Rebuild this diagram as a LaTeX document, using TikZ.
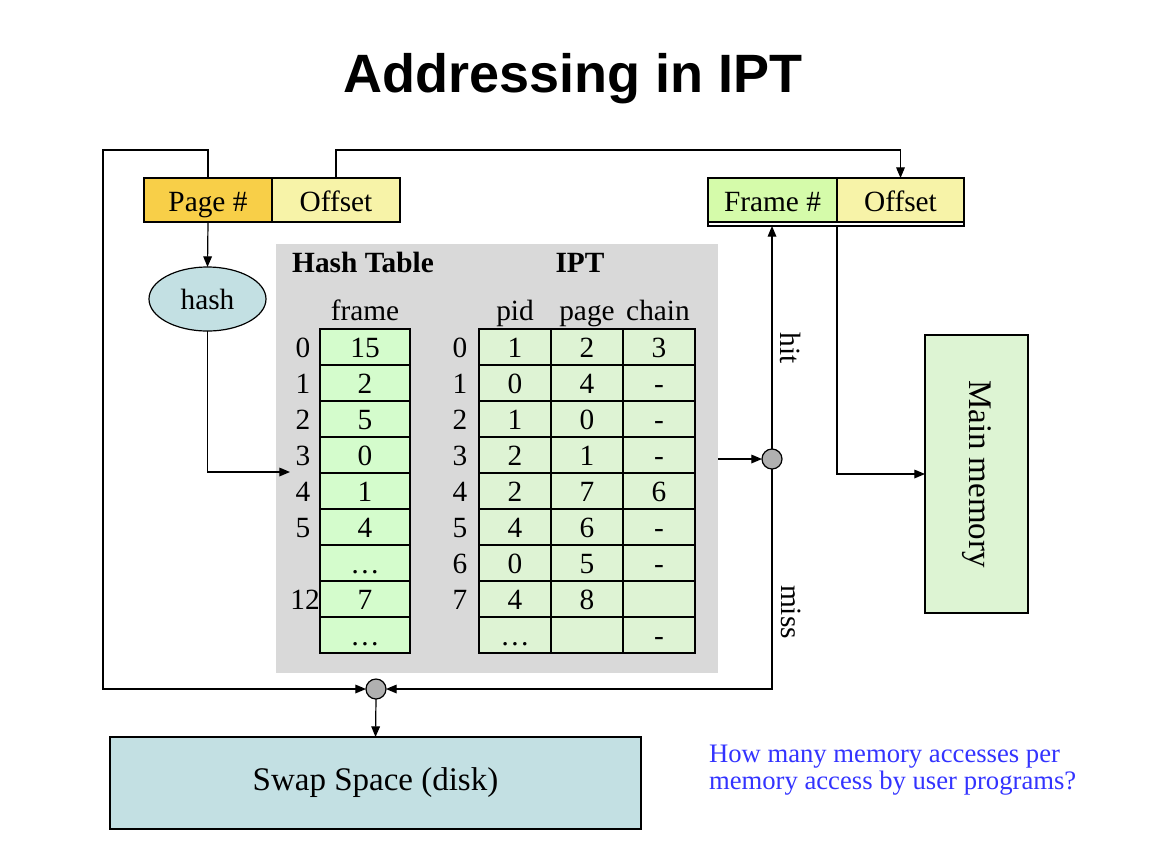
\documentclass[tikz,border=0pt]{standalone}
\usepackage{fontspec}
\setmainfont{Liberation Serif}
\newfontfamily\titlefont{Liberation Sans}
\usetikzlibrary{arrows.meta,shapes.geometric}
\definecolor{pagecol}{RGB}{248,207,72}
\definecolor{offcol}{RGB}{247,243,168}
\definecolor{framecol}{RGB}{213,251,170}
\definecolor{hashcol}{RGB}{212,252,204}
\definecolor{iptcol}{RGB}{222,243,212}
\definecolor{graybg}{RGB}{217,217,217}
\definecolor{tealcol}{RGB}{195,224,227}
\definecolor{memcol}{RGB}{221,244,211}
\definecolor{qblue}{RGB}{51,51,255}
\definecolor{dotgray}{RGB}{176,176,176}
\begin{document}
\begin{tikzpicture}[x=0.75pt,y=-0.75pt,
  every node/.style={inner sep=0pt, outer sep=0pt},
  txt/.style={font=\fontsize{22}{24}\selectfont},
  bigtxt/.style={font=\fontsize{24.75}{27}\selectfont},
  fixh/.style={text height=15pt, text depth=0pt},
  hcell/.style={txt, fixh, draw, line width=0.9pt, fill=hashcol, minimum width=67.5pt, minimum height=27pt},
  icell/.style={txt, fixh, draw, line width=0.9pt, fill=iptcol, minimum width=54pt, minimum height=27pt},
  idx/.style={txt, fixh},
  field/.style={txt, text height=16.5pt, text depth=0pt, draw, line width=0.9pt, minimum height=33pt},
  dot/.style={circle, draw, line width=0.9pt, fill=dotgray, minimum size=15pt},
  conn/.style={line width=0.9pt},
  arr/.style={conn, -{Triangle[length=8pt,width=6.5pt]}},
  rot/.style={txt, rotate=-90}
]
\useasboundingbox (0,0) rectangle (1152,854);

% title
\node[font=\titlefont\bfseries\fontsize{40.5}{44}\selectfont] (title) at (573,79) {Addressing in IPT};

% virtual address
\node[field, fill=pagecol, minimum width=96pt] (pg) at (208,200) {Page \#};
\node[field, fill=offcol, minimum width=96pt] (off) at (336,200) {Offset};

% physical address
\node[draw, line width=0.9pt, fill=white, minimum width=192pt, minimum height=36pt] (fbox) at (836,202) {};
\node[field, fill=framecol, minimum width=96.75pt] (fn) at (772.5,200) {Frame \#};
\node[field, fill=offcol, minimum width=95.25pt] (fo) at (900.5,200) {Offset};

% hash function
\node[ellipse, draw, line width=0.9pt, fill=tealcol, txt, minimum width=87.75pt, minimum height=48pt] (hash) at (207.5,299) {hash};

% gray background
\fill[graybg] (276,244) rectangle (718,673);

% headers
\node[txt, font=\fontsize{22}{24}\selectfont\bfseries, anchor=base] (hht) at (363,272) {Hash Table};
\node[txt, font=\fontsize{22}{24}\selectfont\bfseries, anchor=base] (hipt) at (580,272) {IPT};
\node[txt, anchor=base] (hfr) at (365,320) {frame};
\node[txt, anchor=base] (hpid) at (515,320) {pid};
\node[txt, anchor=base] (hpage) at (587,320) {page};
\node[txt, anchor=base] (hchain) at (658,320) {chain};

% hash table
\foreach \v [count=\i from 0] in {15,2,5,0,1,4,\dots,7,\dots}
  \node[hcell] (h\i) at (365,347+36*\i) {\v};
\foreach \k/\r/\xx in {0/0/303,1/1/303,2/2/303,3/3/303,4/4/303,5/5/303,12/7/305}
  \node[idx] (hi\k) at (\xx,347+36*\r) {\k};

% inverted page table
\foreach \a/\b/\c [count=\i from 0] in {1/2/3,0/4/-,1/0/-,2/1/-,2/7/6,4/6/-,0/5/-,4/8/{},\dots/{}/-} {
  \node[icell] (p\i) at (515,347+36*\i) {\a};
  \node[icell] (g\i) at (587,347+36*\i) {\b};
  \node[icell] (c\i) at (659,347+36*\i) {\c};
}
\foreach \r in {0,...,7}
  \node[idx] (ii\r) at (460,347+36*\r) {\r};

% main memory and swap
\node[draw, line width=0.9pt, fill=memcol, minimum width=77.25pt, minimum height=208.5pt] (mm) at (976.5,474) {};
\node[bigtxt, rotate=-90] (mmt) at (976.5,474) {Main memory};
\node[draw, line width=0.9pt, fill=tealcol, bigtxt, minimum width=398.25pt, minimum height=69pt] (swap) at (375.5,783) {Swap Space (disk)};

% junctions
\node[dot] (j1) at (772,459) {};
\node[dot] (j2) at (376,689) {};

% labels
\node[rot] (hit) at (791,348) {hit};
\node[rot] (miss) at (791,612) {miss};

% question
\node[font=\fontsize{20}{22}\selectfont, text=qblue, anchor=base west] (q1) at (709,762) {How many memory accesses per};
\node[font=\fontsize{20}{22}\selectfont, text=qblue, anchor=base west] (q2) at (709,789) {memory access by user programs?};

% connectors
\coordinate (tl) at (103,150);
\coordinate (hin) at (290,472);
\coordinate (iout) at (718,459);
\draw[arr] (pg.north) |- (tl) |- (j2.west);
\draw[arr] (off.north) -- ++(0,-28) -| (fo.north);
\draw[arr] (pg.south) -- (hash.north);
\draw[arr] (hash.south) |- (hin);
\draw[arr] (iout) -- (j1.west);
\draw[arr] (j1.north) -- (j1.north |- fbox.south);
\draw[arr] (j1.south) |- (j2.east);
\draw[arr] (fn.east |- fbox.south) |- (mm.west);
\draw[arr] (j2.south) -- (swap.north);
\end{tikzpicture}
\end{document}
